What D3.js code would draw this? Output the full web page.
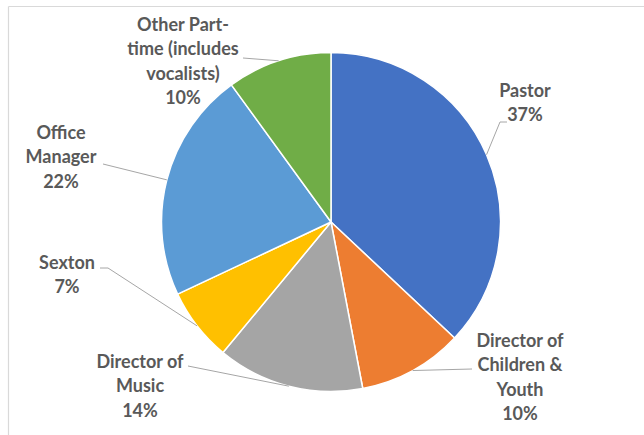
<!DOCTYPE html>
<html>
<head>
<meta charset="utf-8">
<script src="https://cdn.jsdelivr.net/npm/d3@7"></script>
<style>
  html, body { margin: 0; padding: 0; background: #ffffff; }
  svg { display: block; }
</style>
</head>
<body>
<svg id="chart" width="644" height="435"></svg>
<script>
// ---- data ----
const categories = ["Pastor", "Director of Children & Youth", "Director of Music", "Sexton", "Office Manager", "Other Part-time (includes vocalists)"];
const values = [37, 10, 14, 7, 22, 10];
const labelLines = [
  ["Pastor", "37%"],
  ["Director of", "Children &", "Youth", "10%"],
  ["Director of", "Music", "14%"],
  ["Sexton", "7%"],
  ["Office", "Manager", "22%"],
  ["Other Part-", "time (includes", "vocalists)", "10%"]
];
const colors = ["#4472C4", "#ED7D31", "#A5A5A5", "#FFC000", "#5B9BD5", "#70AD47"];

// ---- layout ----
const W = 644, H = 435;
const cx = 331, cy = 222, R = 169.5;
const lineH = 24.4;
// label block: center x, first baseline y, leader end point, elbow point
const labelLayout = [
  { x: 525, y: 97,  end: [507, 122], elbow: [500, 122] },
  { x: 520, y: 347, end: [472, 369], elbow: [472, 369] },
  { x: 140, y: 368, end: [188, 366], elbow: [188, 366] },
  { x: 67,  y: 269, end: [100, 268], elbow: [108, 268] },
  { x: 61,  y: 139, end: [103, 164], elbow: [103, 164] },
  { x: 183, y: 31,  end: [243, 58],  elbow: [243, 58] }
];

const svg = d3.select("#chart");

// frame
svg.append("line").attr("x1", 8.5).attr("y1", 6.5).attr("x2", W).attr("y2", 6.5)
  .attr("stroke", "#D9D9D9").attr("stroke-width", 1.2);
svg.append("line").attr("x1", 8.5).attr("y1", 6.5).attr("x2", 8.5).attr("y2", H)
  .attr("stroke", "#D9D9D9").attr("stroke-width", 1.2);

const data = categories.map((c, i) => ({ name: c, value: values[i], i }));
const pie = d3.pie().value(d => d.value).sort(null);
const arcs = pie(data);
const arc = d3.arc().innerRadius(0).outerRadius(R);

const g = svg.append("g").attr("transform", `translate(${cx},${cy})`);
g.selectAll("path.slice").data(arcs).enter().append("path")
  .attr("class", "slice")
  .attr("d", arc)
  .attr("fill", d => colors[d.data.i])
  .attr("stroke", "#ffffff")
  .attr("stroke-width", 1.5)
  .attr("stroke-linejoin", "round");

// leader lines
arcs.forEach(a => {
  const mid = (a.startAngle + a.endAngle) / 2;
  const px = cx + R * Math.sin(mid);
  const py = cy - R * Math.cos(mid);
  const L = labelLayout[a.data.i];
  const pts = [[px, py], L.elbow, L.end];
  svg.append("path")
    .attr("d", d3.line()(pts))
    .attr("fill", "none")
    .attr("stroke", "#A6A6A6")
    .attr("stroke-width", 1);
});

// labels
arcs.forEach(a => {
  const L = labelLayout[a.data.i];
  const t = svg.append("text")
    .attr("text-anchor", "middle")
    .attr("font-family", "Lato, 'Open Sans', sans-serif")
    .attr("font-weight", 700)
    .attr("font-size", 18)
    .attr("fill", "#595959");
  labelLines[a.data.i].forEach((s, k) => {
    t.append("tspan").attr("x", L.x).attr("y", L.y + k * lineH).text(s);
  });
});
</script>
</body>
</html>
